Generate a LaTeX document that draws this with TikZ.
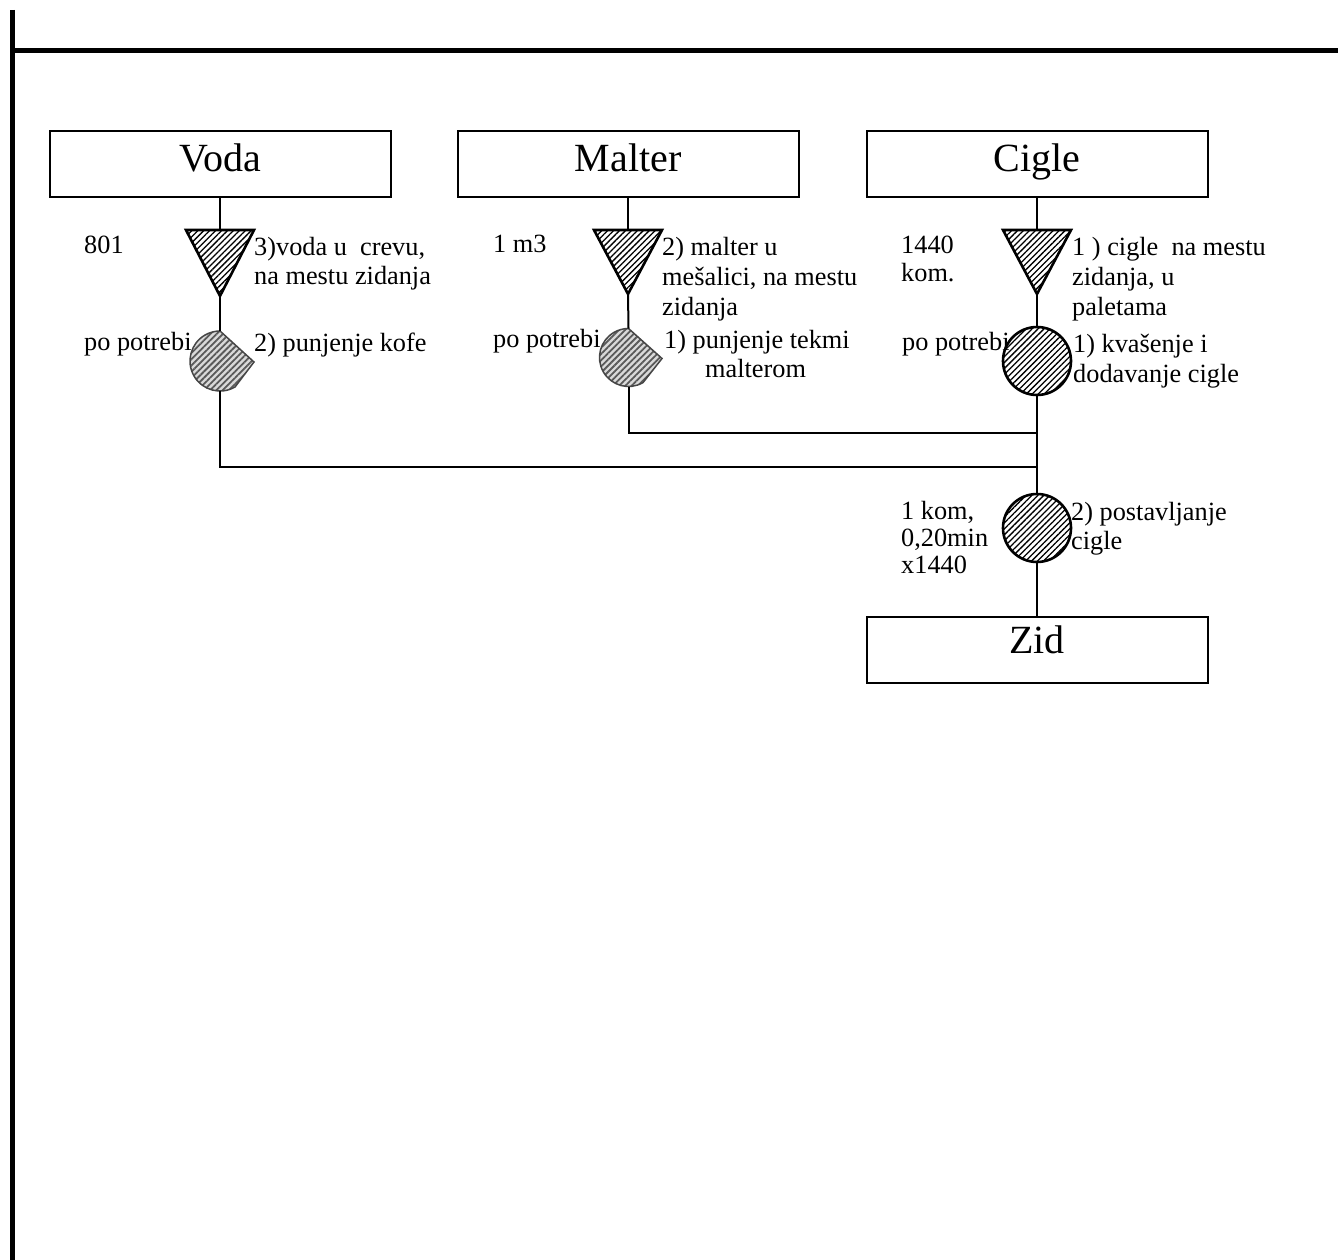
\documentclass[tikz,border=0pt]{standalone}
\usepackage{fontspec}
\setmainfont{Liberation Serif}
\usetikzlibrary{patterns.meta}
\begin{document}
\begin{tikzpicture}[x=1pt,y=-1pt,
  box/.style={draw, line width=2pt, minimum width=341pt, minimum height=66pt, inner sep=0pt,
    font=\fontsize{40}{44}\selectfont, text height=28pt, text depth=12pt},
  zidbox/.style={box, text height=28pt, text depth=22pt},
  txt/.style={anchor=base west, inner sep=0pt, font=\fontsize{26.3}{30}\selectfont},
  conn/.style={line width=2pt},
  frame/.style={line width=5pt},
  tri/.style={draw, line width=2.6pt, line join=miter,
    pattern={Lines[angle=45, distance=4.2pt, line width=1.3pt]}, pattern color=black},
  dly/.style={draw=gray!55!black, line width=1.5pt, line join=miter,
    preaction={fill=gray!30},
    pattern={Lines[angle=45, distance=4.4pt, line width=1.8pt]}, pattern color=gray!70!black},
  oper/.style={circle, draw, line width=2.6pt, minimum size=68pt, inner sep=0pt,
    preaction={fill=white},
    pattern={Lines[angle=45, distance=4.2pt, line width=1.3pt]}, pattern color=black}
]
\useasboundingbox (0,0) rectangle (1338,1260);

% frame
\coordinate (fl1) at (12,10);
\coordinate (fl2) at (12,1260);
\coordinate (fh1) at (12,51);
\coordinate (fh2) at (1338,51);
\draw[frame] (fl1) -- (fl2);
\draw[frame] (fh1) -- (fh2);

% boxes
\node[box] (voda) at (220,164) {Voda};
\node[box] (malter) at (628,164) {Malter};
\node[box] (cigle) at (1037,164) {Cigle};
\node[zidbox] (zid) at (1037,650) {Zid};

% triangles (storage)
\coordinate (vtt) at (220,230); \coordinate (vta) at (220,296);
\coordinate (mtt) at (628,230); \coordinate (mta) at (628,294);
\coordinate (ctt) at (1037,230); \coordinate (cta) at (1037,294);
\draw[tri] (186,230) -- (254,230) -- (vta) -- cycle;
\draw[tri] (594,230) -- (662,230) -- (mta) -- cycle;
\draw[tri] (1003,230) -- (1071,230) -- (cta) -- cycle;

% delay shapes
\coordinate (vdt) at (220,331); \coordinate (vdb) at (220,391);
\draw[dly] (vdt) -- (254,362) -- (235,387) arc[start angle=60, end angle=270, radius=30] -- cycle;
\coordinate (mdt) at (628.5,328.5); \coordinate (mdb) at (628.5,386.5);
\draw[dly] (mdt) -- (662,358.5) -- (643,382.6) arc[start angle=60, end angle=270, radius=29] -- cycle;

% operations
\node[oper] (c1) at (1037,361) {};
\node[oper] (c2) at (1037,528) {};

% junctions
\coordinate (j1) at (1037,433);
\coordinate (j2) at (1037,467);

% connectors
\draw[conn] (voda.south) -- (vtt);
\draw[conn] (vta) -- (vdt);
\draw[conn] (vdb) |- (j2);
\draw[conn] (malter.south) -- (mtt);
\draw[conn] (mta) -- (mdt);
\draw[conn] (mdb) |- (j1);
\draw[conn] (cigle.south) -- (ctt);
\draw[conn] (cta) -- (c1.north);
\draw[conn] (c1.south) -- (c2.north);
\draw[conn] (c2.south) -- (zid.north);

% texts - Voda
\node[txt] (t1) at (84,253) {801};
\node[txt] (t2) at (254,255) {3)voda u\ \ crevu,};
\node[txt] (t3) at (254,284) {na mestu zidanja};
\node[txt] (t4) at (84,350) {po potrebi};
\node[txt] (t5) at (254,351) {2) punjenje kofe};

% texts - Malter
\node[txt] (t6) at (493,252) {1 m3};
\node[txt] (t7) at (662,255) {2) malter u};
\node[txt] (t8) at (662,285) {mešalici, na mestu};
\node[txt] (t9) at (662,315) {zidanja};
\node[txt] (t10) at (493,347) {po potrebi};
\node[txt] (t11) at (664,348) {1) punjenje tekmi};
\node[txt] (t12) at (705,377) {malterom};

% texts - Cigle
\node[txt] (t13) at (901,253) {1440};
\node[txt] (t14) at (901,281) {kom.};
\node[txt] (t15) at (1072,255) {1 ) cigle\ \ na mestu};
\node[txt] (t16) at (1072,285) {zidanja, u};
\node[txt] (t17) at (1072,315) {paletama};
\node[txt] (t18) at (902,350) {po potrebi};
\node[txt] (t19) at (1073,352) {1) kvašenje i};
\node[txt] (t20) at (1073,382) {dodavanje cigle};

% texts - lower
\node[txt] (t21) at (901,519) {1 kom,};
\node[txt] (t22) at (901,546) {0,20min};
\node[txt] (t23) at (901,573) {x1440};
\node[txt] (t24) at (1071,520) {2) postavljanje};
\node[txt] (t25) at (1071,549) {cigle};
\end{tikzpicture}
\end{document}
